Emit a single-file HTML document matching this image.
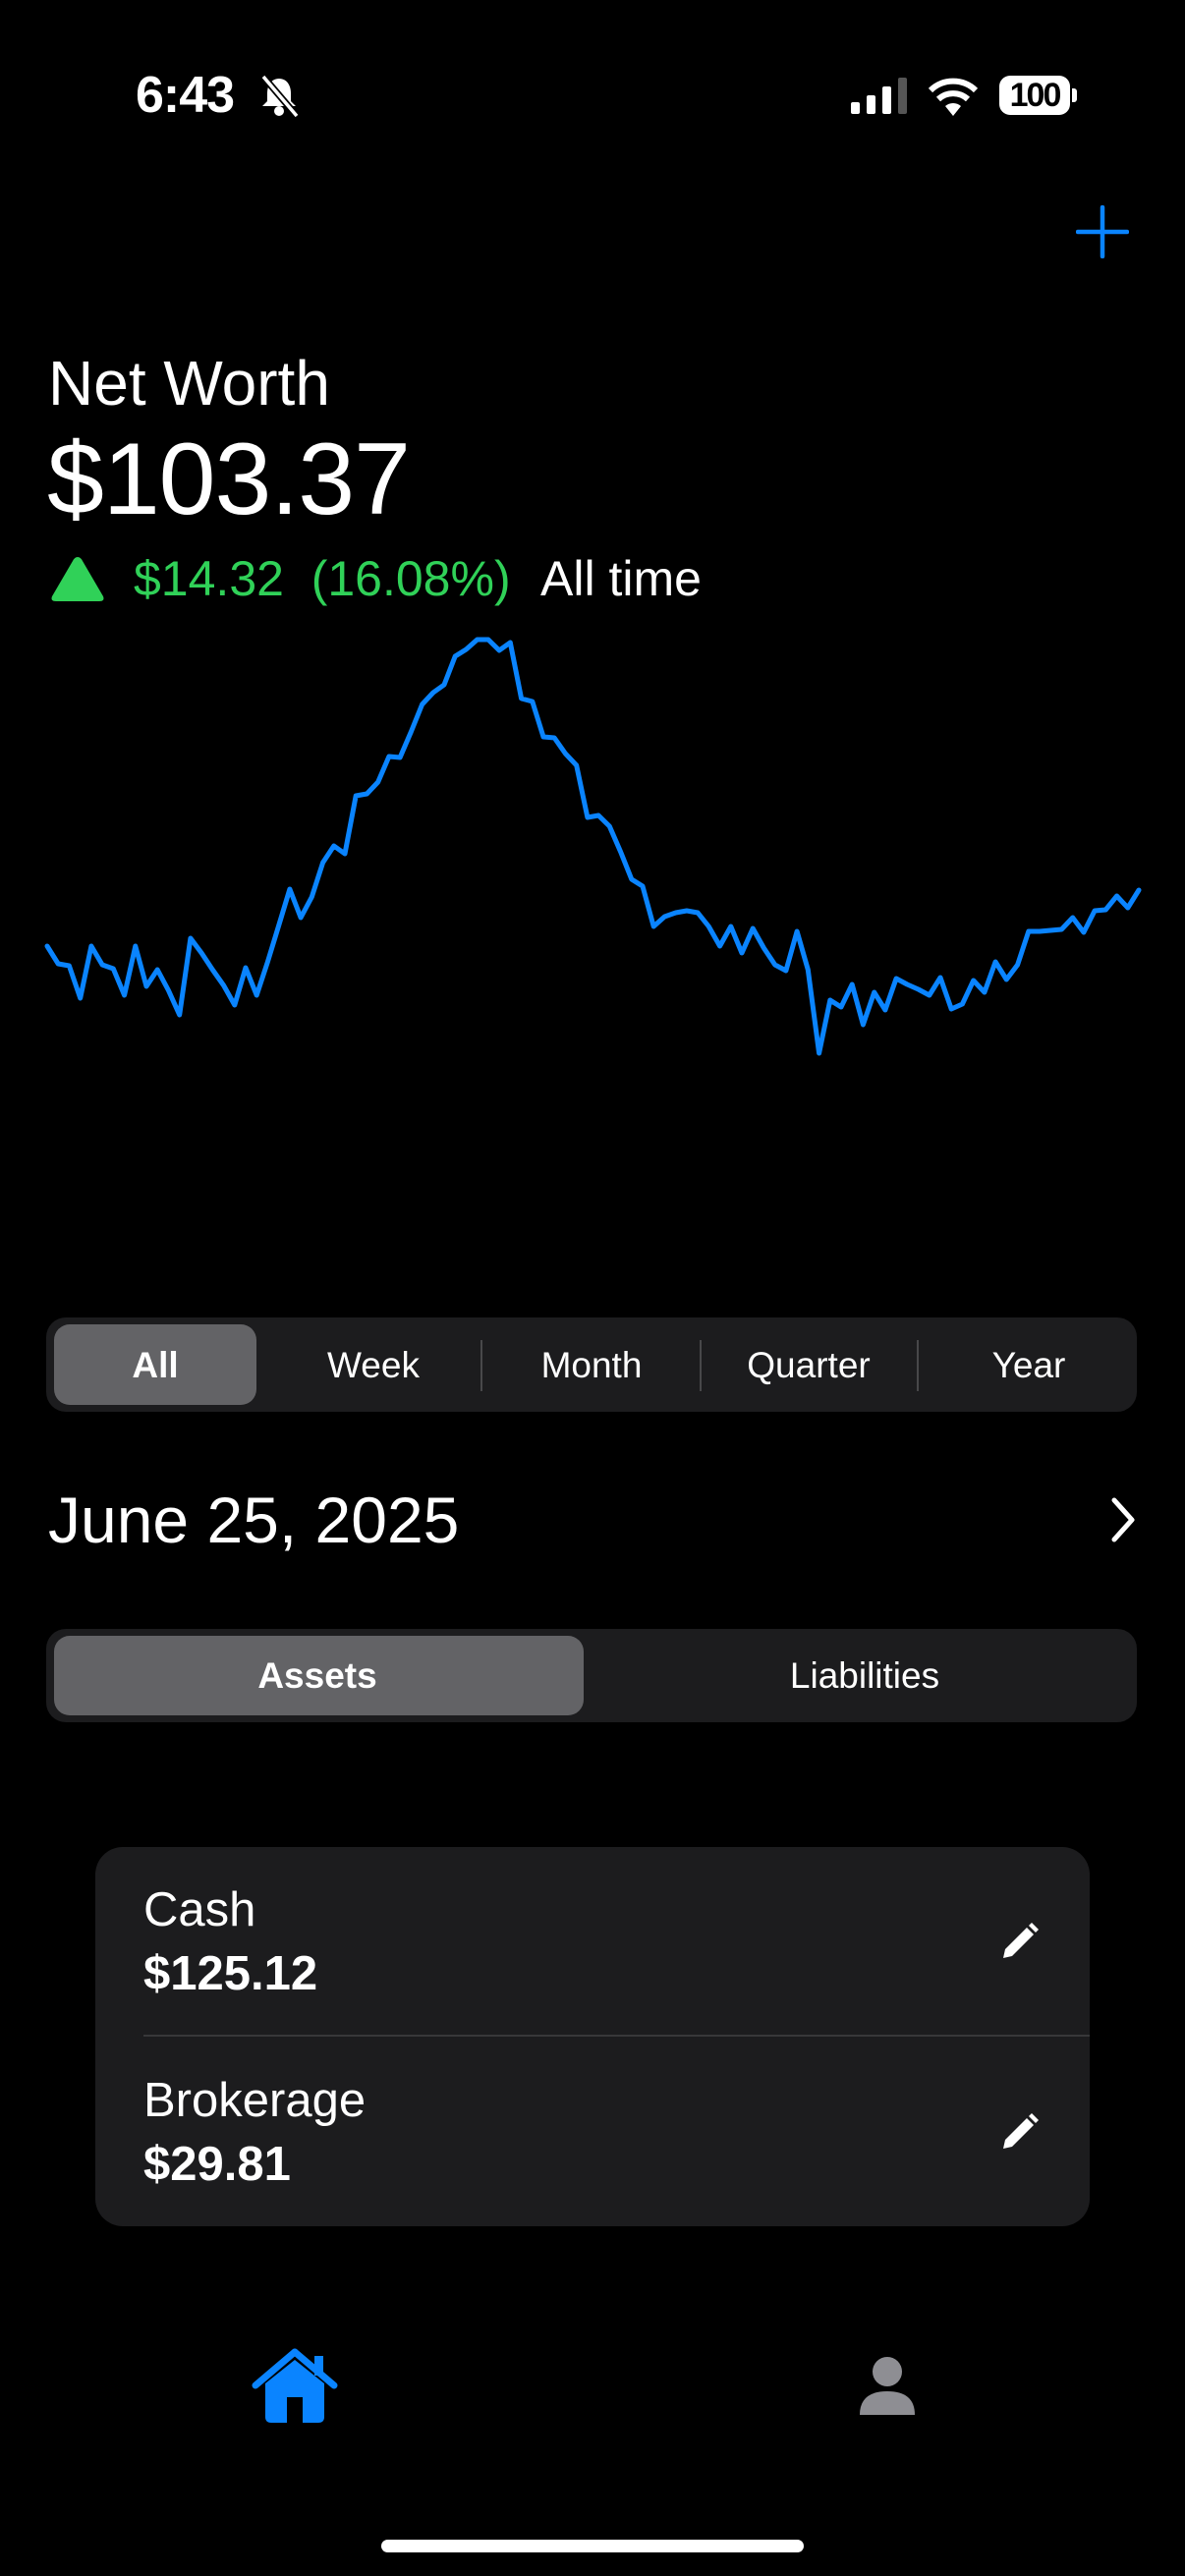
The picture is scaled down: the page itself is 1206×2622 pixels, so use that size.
<!DOCTYPE html>
<html><head><meta charset="utf-8">
<style>
html,body{margin:0;padding:0;background:#000;}
body{width:1206px;height:2622px;position:relative;overflow:hidden;font-family:"Liberation Sans",sans-serif;color:#fff;}
.a{position:absolute;}
.t{position:absolute;white-space:nowrap;}
.seg{position:absolute;background:#1c1c1e;border-radius:20px;}
.sel{position:absolute;background:#636366;border-radius:16px;}
.lbl{position:absolute;font-size:37px;text-align:center;transform:translateX(-50%);line-height:37px;}
.div{position:absolute;width:2px;background:#48484a;}
</style></head>
<body>
<div class="t" style="left:138px;top:71px;font-size:52px;font-weight:bold;line-height:52px;letter-spacing:-1px;">6:43</div>
<svg class="a" style="left:262px;top:76px" width="44" height="44" viewBox="0 0 44 44">
<path d="M22 4 C14 4 10 11 10 19 L10 27 L5 32 L39 32 L34 27 L34 19 C34 11 30 4 22 4Z" fill="#fff"/>
<circle cx="22" cy="37" r="5" fill="#fff"/>
<line x1="6" y1="2" x2="40" y2="42" stroke="#000" stroke-width="7"/>
<line x1="6" y1="2" x2="40" y2="42" stroke="#fff" stroke-width="3.5"/>
</svg>
<svg class="a" style="left:866px;top:78px" width="60" height="40">
<rect x="0" y="26" width="9" height="12" rx="2" fill="#fff"/>
<rect x="16" y="19" width="9" height="19" rx="2" fill="#fff"/>
<rect x="32" y="10" width="9" height="28" rx="2" fill="#fff"/>
<rect x="48" y="1" width="9" height="37" rx="2" fill="#555"/>
</svg>
<svg class="a" style="left:943px;top:78px" width="54" height="40" viewBox="0 0 54 40">
<path d="M27 40 L19 30 A12 12 0 0 1 35 30 Z" fill="#fff"/>
<path d="M12 23 A22 22 0 0 1 42 23" stroke="#fff" stroke-width="6" fill="none"/>
<path d="M4 14 A33 33 0 0 1 50 14" stroke="#fff" stroke-width="6" fill="none"/>
</svg>
<div class="a" style="left:1017px;top:77px;width:72px;height:40px;background:#fff;border-radius:11px;color:#000;font-weight:bold;font-size:34px;line-height:40px;text-align:center;letter-spacing:-2px;">100</div>
<div class="a" style="left:1091px;top:90px;width:5px;height:14px;background:#fff;border-radius:0 3px 3px 0;"></div>

<svg class="a" style="left:1095px;top:209px" width="54" height="54">
<line x1="27" y1="2" x2="27" y2="52" stroke="#0a84ff" stroke-width="4.5" stroke-linecap="round"/>
<line x1="2" y1="27" x2="52" y2="27" stroke="#0a84ff" stroke-width="4.5" stroke-linecap="round"/>
</svg>

<div class="t" style="left:49px;top:355px;font-size:64px;line-height:70px;">Net Worth</div>
<div class="t" style="left:48px;top:432px;font-size:104px;line-height:112px;letter-spacing:-1px;">$103.37</div>
<svg class="a" style="left:50px;top:564px" width="58" height="50">
<path d="M29 3 Q32 3 34 7 L55 43 Q57 48 51 48 L7 48 Q1 48 3 43 L24 7 Q26 3 29 3Z" fill="#30d158"/>
</svg>
<div class="t" style="left:136px;top:561px;font-size:50px;line-height:56px;color:#30d158;">$14.32 &nbsp;(16.08%)</div>
<div class="t" style="left:550px;top:561px;font-size:50px;line-height:56px;">All time</div>

<svg class="a" id="chart" style="left:0;top:0" width="1206" height="1200"></svg>

<div class="seg" style="left:47px;top:1341px;width:1110px;height:96px;"></div>
<div class="sel" style="left:55px;top:1348px;width:206px;height:82px;"></div>
<div class="div" style="left:489px;top:1364px;height:52px;"></div>
<div class="div" style="left:712px;top:1364px;height:52px;"></div>
<div class="div" style="left:933px;top:1364px;height:52px;"></div>
<div class="lbl" style="left:158px;top:1371px;font-weight:bold;">All</div>
<div class="lbl" style="left:380px;top:1371px;">Week</div>
<div class="lbl" style="left:602px;top:1371px;">Month</div>
<div class="lbl" style="left:823px;top:1371px;">Quarter</div>
<div class="lbl" style="left:1047px;top:1371px;">Year</div>

<div class="t" style="left:49px;top:1511px;font-size:66px;line-height:72px;">June 25, 2025</div>
<svg class="a" style="left:1128px;top:1523px" width="30" height="48">
<polyline points="6,4 24,24 6,44" stroke="#fff" stroke-width="5" fill="none" stroke-linecap="round" stroke-linejoin="round"/>
</svg>

<div class="seg" style="left:47px;top:1658px;width:1110px;height:95px;"></div>
<div class="sel" style="left:55px;top:1665px;width:539px;height:81px;"></div>
<div class="lbl" style="left:323px;top:1687px;font-weight:bold;">Assets</div>
<div class="lbl" style="left:880px;top:1687px;">Liabilities</div>

<div class="a" style="left:97px;top:1880px;width:1012px;height:386px;background:#1c1c1e;border-radius:28px;"></div>
<div class="t" style="left:146px;top:1916px;font-size:49px;line-height:56px;">Cash</div>
<div class="t" style="left:146px;top:1981px;font-size:49px;line-height:56px;font-weight:bold;">$125.12</div>
<div class="a" style="left:146px;top:2071px;width:963px;height:2px;background:#38383a;"></div>
<div class="t" style="left:146px;top:2110px;font-size:49px;line-height:56px;">Brokerage</div>
<div class="t" style="left:146px;top:2175px;font-size:49px;line-height:56px;font-weight:bold;">$29.81</div>
<svg class="a" style="left:1015px;top:1955px" width="44" height="44" viewBox="0 0 44 44">
<path d="M6 38 L8 29 L30 7 L37 14 L15 36 Z" fill="#fff"/><path d="M32 5 L35 2 L42 9 L39 12 Z" fill="#fff"/>
</svg>
<svg class="a" style="left:1015px;top:2149px" width="44" height="44" viewBox="0 0 44 44">
<path d="M6 38 L8 29 L30 7 L37 14 L15 36 Z" fill="#fff"/><path d="M32 5 L35 2 L42 9 L39 12 Z" fill="#fff"/>
</svg>

<svg class="a" style="left:256px;top:2388px" width="88" height="80" viewBox="0 0 88 80">
<path d="M44 6 L84 40" stroke="#0a84ff" stroke-width="7" stroke-linecap="round"/>
<path d="M44 6 L4 40" stroke="#0a84ff" stroke-width="7" stroke-linecap="round"/>
<rect x="64" y="10" width="9" height="20" fill="#0a84ff"/>
<path d="M14 38 L44 14 L74 38 L74 72 Q74 78 68 78 L20 78 Q14 78 14 72 Z" fill="#0a84ff"/>
<rect x="36" y="52" width="16" height="26" fill="#000"/>
</svg>
<svg class="a" style="left:873px;top:2398px" width="60" height="62" viewBox="0 0 60 62">
<circle cx="30" cy="16" r="15" fill="#8e8e93"/>
<path d="M2 60 Q2 36 30 36 Q58 36 58 60 Z" fill="#8e8e93"/>
</svg>
<div class="a" style="left:388px;top:2585px;width:430px;height:13px;background:#fff;border-radius:7px;"></div>

<script>
const values = [89.05,84.53,84.03,75.74,89.05,84.28,83.27,76.49,89.05,78.75,83.02,77.75,71.47,91.06,87.29,83.02,79.00,73.98,83.53,76.49,85.03,94.33,103.62,96.34,101.61,110.40,114.67,112.66,127.49,127.99,131.00,137.53,137.28,143.81,150.85,153.86,155.87,163.16,164.91,167.43,167.43,164.66,166.67,152.35,151.60,142.56,142.31,138.29,135.27,121.96,122.46,119.70,113.17,106.13,104.37,94.08,96.59,97.59,98.10,97.59,94.08,89.05,94.08,87.29,93.57,88.55,84.28,82.77,92.82,83.02,61.67,75.24,73.48,79.26,68.96,77.25,72.72,80.76,79.26,78.00,76.49,81.01,72.97,74.23,80.26,77.25,85.03,80.51,84.28,92.82,92.82,93.07,93.32,96.34,92.57,98.10,98.35,101.86,98.85,103.37];
const yDomain = [61.67, 167.43];
const svg = document.getElementById('chart');
const X0 = 48, X1 = 1159, Y0 = 1072, Y1 = 651;
function xScale(i){ return X0 + (X1 - X0) * i / (values.length - 1); }
function yScale(v){ return Y0 + (Y1 - Y0) * (v - yDomain[0]) / (yDomain[1] - yDomain[0]); }
let d = '';
values.forEach((v, i) => { d += (i ? 'L' : 'M') + xScale(i).toFixed(1) + ' ' + yScale(v).toFixed(1); });
const p = document.createElementNS('http://www.w3.org/2000/svg', 'path');


p.setAttribute('d', d);
p.setAttribute('fill', 'none');
p.setAttribute('stroke', '#0a84ff');
p.setAttribute('stroke-width', '5');
p.setAttribute('stroke-linejoin', 'round');
p.setAttribute('stroke-linecap', 'round');
svg.appendChild(p);
</script>
</body></html>
